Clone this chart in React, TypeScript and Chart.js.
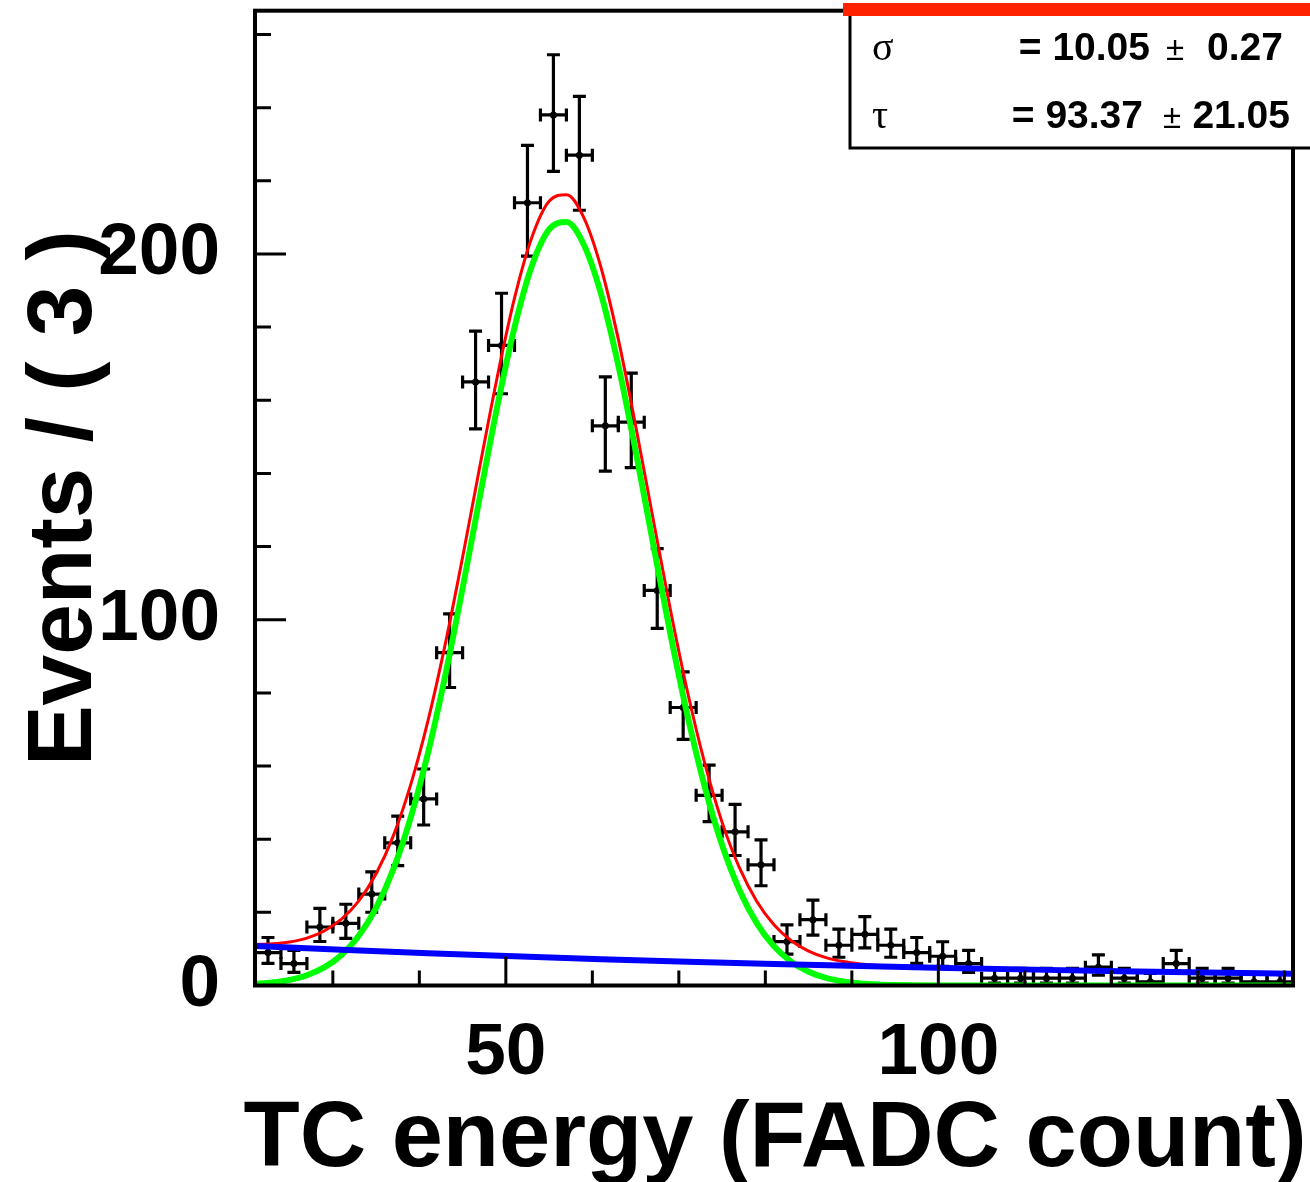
import React, { useEffect, useRef } from "react";
import { Chart, registerables } from "chart.js";

Chart.register(...registerables);

// ---- data ----
const binCenters = [
  22.5, 25.5, 28.5, 31.5, 34.5, 37.5, 40.5, 43.5, 46.5, 49.5,
  52.5, 55.5, 58.5, 61.5, 64.5, 67.5, 70.5, 73.5, 76.5, 79.5,
  82.5, 85.5, 88.5, 91.5, 94.5, 97.5, 100.5, 103.5, 106.5, 109.5,
  112.5, 115.5, 118.5, 121.5, 124.5, 127.5, 130.5, 133.5, 136.5, 139.5,
];
const counts = [
  9, 6, 16, 17, 25, 39, 51, 91, 165, 175,
  214, 238, 227, 153, 154, 108, 76, 52, 42, 33,
  12, 18, 11, 14, 11, 9, 8, 6, 2, 2,
  2, 2, 5, 2, 1, 6, 2, 2, 1, 1,
];
const binHalfWidth = 1.5;

const curveX = [
  21, 23, 25, 27, 29, 31, 33, 35, 37, 39, 41, 43, 45, 47, 49, 51, 53, 55, 57, 59,
  61, 63, 65, 67, 69, 71, 73, 75, 77, 79, 81, 83, 85, 87, 89, 91, 93, 95, 97,
  101, 111, 121, 131, 141,
];
const totalModel = [
  11.21, 11.39, 11.91, 12.97, 14.9, 18.12, 23.14, 30.57, 40.98, 54.9, 72.4, 93.4,
  117.1, 142.0, 166.3, 187.9, 204.5, 214.4, 216.2, 210.0, 196.3, 176.7, 153.1,
  127.9, 103.0, 80.3, 60.7, 44.6, 32.2, 23.05, 16.59, 12.22, 9.4, 7.62, 6.54,
  5.89, 5.5, 5.24, 5.06, 4.8, 4.34, 3.92, 3.54, 3.2,
];
const signalModel = [
  0.41, 0.81, 1.54, 2.81, 4.94, 8.36, 13.58, 21.2, 31.8, 45.9, 63.6, 84.8,
  108.6, 133.7, 158.2, 179.9, 196.7, 206.7, 208.7, 202.6, 189.1, 169.6, 146.2,
  121.1, 96.4, 73.8, 54.3, 38.4, 26.1, 17.05, 10.71, 6.46, 3.75, 2.09, 1.12,
  0.58, 0.29, 0.14, 0.06, 0.01, 0, 0, 0, 0,
];
const bkgX = [21, 31, 41, 51, 61, 71, 81, 91, 101, 111, 121, 131, 141];
const bkgModel = [10.8, 9.76, 8.82, 7.97, 7.2, 6.51, 5.88, 5.31, 4.8, 4.34, 3.92, 3.54, 3.2];

const xMajorTicks = [50, 100];
const xMinorTicks = [30, 40, 60, 70, 80, 90, 110, 120, 130, 140];
const yMajorTicks = [0, 100, 200];
const yMinorTicks = [20, 40, 60, 80, 120, 140, 160, 180, 220, 240, 260];

const xTitle = "TC energy (FADC count)";
const yTitle = "Events / ( 3 )";
const statSymbols = ["σ", "τ"];
const statValues = ["10.05", "93.37"];
const statErrors = ["0.27", "21.05"];

const FONT = "'Liberation Sans', Arial, Helvetica, sans-serif";
const SERIF = "'Liberation Serif', 'Times New Roman', serif";

const rootStyle = {
  id: "rootStyle",
  beforeDatasetsDraw(chart: any) {
    const { ctx, chartArea } = chart;
    const xs = chart.scales.x;
    const ys = chart.scales.y;
    ctx.save();
    ctx.beginPath();
    ctx.rect(chartArea.left, chartArea.top, chartArea.right - chartArea.left, chartArea.bottom - chartArea.top);
    ctx.clip();
    ctx.strokeStyle = "#000";
    ctx.lineWidth = 3.2;
    const cap = 6.5;
    binCenters.forEach((xc, i) => {
      const n = counts[i];
      const lo = n > 0 ? Math.sqrt(n - 0.25) : 0;
      const hi = Math.sqrt(n + 0.75) + (n > 0 ? 1 : 0.3);
      const px = xs.getPixelForValue(xc);
      const py = ys.getPixelForValue(n);
      const x1 = xs.getPixelForValue(xc - binHalfWidth);
      const x2 = xs.getPixelForValue(xc + binHalfWidth);
      const yTop = ys.getPixelForValue(n + hi);
      const yBot = ys.getPixelForValue(n - lo);
      ctx.beginPath();
      ctx.moveTo(x1, py); ctx.lineTo(x2, py);
      ctx.moveTo(x1, py - cap); ctx.lineTo(x1, py + cap);
      ctx.moveTo(x2, py - cap); ctx.lineTo(x2, py + cap);
      ctx.moveTo(px, yTop); ctx.lineTo(px, yBot);
      ctx.moveTo(px - cap, yTop); ctx.lineTo(px + cap, yTop);
      ctx.moveTo(px - cap, yBot); ctx.lineTo(px + cap, yBot);
      ctx.stroke();
    });
    ctx.restore();
  },
  afterDraw(chart: any) {
    const { ctx, chartArea } = chart;
    const xs = chart.scales.x;
    const ys = chart.scales.y;
    const { left, right, top, bottom } = chartArea;
    ctx.save();
    // frame
    ctx.strokeStyle = "#000";
    ctx.lineWidth = 4;
    ctx.strokeRect(left, top, right - left, bottom - top);
    // ticks
    ctx.lineWidth = 3;
    ctx.beginPath();
    yMajorTicks.forEach((v) => {
      const p = ys.getPixelForValue(v);
      ctx.moveTo(left, p); ctx.lineTo(left + 31, p);
    });
    yMinorTicks.forEach((v) => {
      const p = ys.getPixelForValue(v);
      ctx.moveTo(left, p); ctx.lineTo(left + 16, p);
    });
    xMajorTicks.forEach((v) => {
      const p = xs.getPixelForValue(v);
      ctx.moveTo(p, bottom); ctx.lineTo(p, bottom - 29);
    });
    xMinorTicks.forEach((v) => {
      const p = xs.getPixelForValue(v);
      ctx.moveTo(p, bottom); ctx.lineTo(p, bottom - 15);
    });
    ctx.stroke();

    // x axis title (drawn without width clamping)
    ctx.fillStyle = "#000";
    ctx.font = `bold 92px ${FONT}`;
    ctx.textAlign = "center";
    ctx.textBaseline = "alphabetic";
    ctx.fillText(xTitle, (left + right) / 2 + 1, 1166);

    // stat box
    const bx = 849;
    const by = 14;
    const bw = chart.width - bx;
    const bh = 134;
    ctx.fillStyle = "#fff";
    ctx.fillRect(bx, by, bw, bh);
    ctx.lineWidth = 3;
    ctx.beginPath();
    ctx.moveTo(bx + 1, by); ctx.lineTo(bx + 1, by + bh + 1.5);
    ctx.moveTo(bx, by + bh); ctx.lineTo(chart.width, by + bh);
    ctx.stroke();
    ctx.fillStyle = "#ff2200";
    ctx.fillRect(843, 3, chart.width - 843, 13);

    const baselines = [60, 128];
    const valRight = [1150, 1143];
    const pmLeft = [1166, 1163];
    const errRight = [1283, 1290];
    ctx.fillStyle = "#000";
    ctx.textBaseline = "alphabetic";
    statSymbols.forEach((s, i) => {
      ctx.font = `40px ${SERIF}`;
      ctx.textAlign = "left";
      ctx.fillText(s, 872, baselines[i]);
      ctx.font = `bold 39px ${FONT}`;
      ctx.textAlign = "right";
      ctx.fillText("= " + statValues[i], valRight[i], baselines[i]);
      ctx.font = `33px ${FONT}`;
      ctx.textAlign = "left";
      ctx.fillText("±", pmLeft[i], baselines[i]);
      ctx.font = `bold 39px ${FONT}`;
      ctx.textAlign = "right";
      ctx.fillText(statErrors[i], errRight[i], baselines[i]);
    });
    ctx.restore();
  },
};

export default function App() {
  const canvasRef = useRef<HTMLCanvasElement | null>(null);

  useEffect(() => {
    document.body.style.margin = "0";
    const canvas = canvasRef.current;
    if (!canvas) return;
    const chart = new Chart(canvas, {
      type: "scatter",
      data: {
        datasets: [
          {
            label: "bkg",
            data: bkgX.map((x, i) => ({ x, y: bkgModel[i] })),
            showLine: true,
            borderColor: "#0000ff",
            borderWidth: 6,
            pointRadius: 0,
            cubicInterpolationMode: "monotone",
            order: 1,
          } as any,
          {
            label: "signal",
            data: curveX.map((x, i) => ({ x, y: signalModel[i] })),
            showLine: true,
            borderColor: "#00ff00",
            borderWidth: 6,
            pointRadius: 0,
            cubicInterpolationMode: "monotone",
            order: 2,
          } as any,
          {
            label: "total",
            data: curveX.map((x, i) => ({ x, y: totalModel[i] })),
            showLine: true,
            borderColor: "#ff0000",
            borderWidth: 3,
            pointRadius: 0,
            cubicInterpolationMode: "monotone",
            order: 3,
          } as any,
          {
            label: "data",
            data: binCenters.map((x, i) => ({ x, y: counts[i] })),
            showLine: false,
            pointRadius: 3.5,
            pointBackgroundColor: "#000",
            pointBorderWidth: 0,
            order: 4,
          } as any,
        ],
      },
      options: {
        animation: false,
        responsive: false,
        devicePixelRatio: 1,
        layout: { padding: { top: 10.7, right: 17, left: 0, bottom: 0 } },
        plugins: { legend: { display: false }, tooltip: { enabled: false } },
        events: [],
        scales: {
          x: {
            type: "linear",
            min: 21,
            max: 141,
            afterBuildTicks: (s: any) => {
              s.ticks = xMajorTicks.map((v) => ({ value: v }));
            },
            afterFit: (s: any) => {
              s.height = 196.5;
              s.paddingLeft = 0;
              s.paddingRight = 0;
              s.paddingTop = 0;
              s.paddingBottom = 0;
            },
            grid: { display: false, drawTicks: false },
            border: { display: false },
            ticks: {
              color: "#000",
              padding: 25,
              maxRotation: 0,
              autoSkip: false,
              font: { family: FONT, weight: "bold", size: 73 },
            },
            title: { display: false, text: xTitle },
          },
          y: {
            type: "linear",
            min: 0,
            max: 266.5,
            afterBuildTicks: (s: any) => {
              s.ticks = yMajorTicks.map((v) => ({ value: v }));
            },
            afterFit: (s: any) => {
              s.width = 255;
              s.paddingLeft = 0;
              s.paddingRight = 0;
              s.paddingTop = 0;
              s.paddingBottom = 0;
            },
            grid: { display: false, drawTicks: false },
            border: { display: false },
            ticks: {
              color: "#000",
              padding: 35,
              autoSkip: false,
              font: { family: FONT, weight: "bold", size: 73 },
            },
            title: {
              display: true,
              text: yTitle,
              color: "#000",
              font: { family: FONT, weight: "bold", size: 91, lineHeight: 1 },
              padding: { top: 20, bottom: 0 },
            },
          },
        },
      } as any,
      plugins: [rootStyle],
    });
    return () => chart.destroy();
  }, []);

  return (
    <div style={{ position: "absolute", left: 0, top: 0, width: 1310, height: 1182, background: "#fff" }}>
      <canvas ref={canvasRef} width={1310} height={1182} style={{ display: "block" }} />
    </div>
  );
}
